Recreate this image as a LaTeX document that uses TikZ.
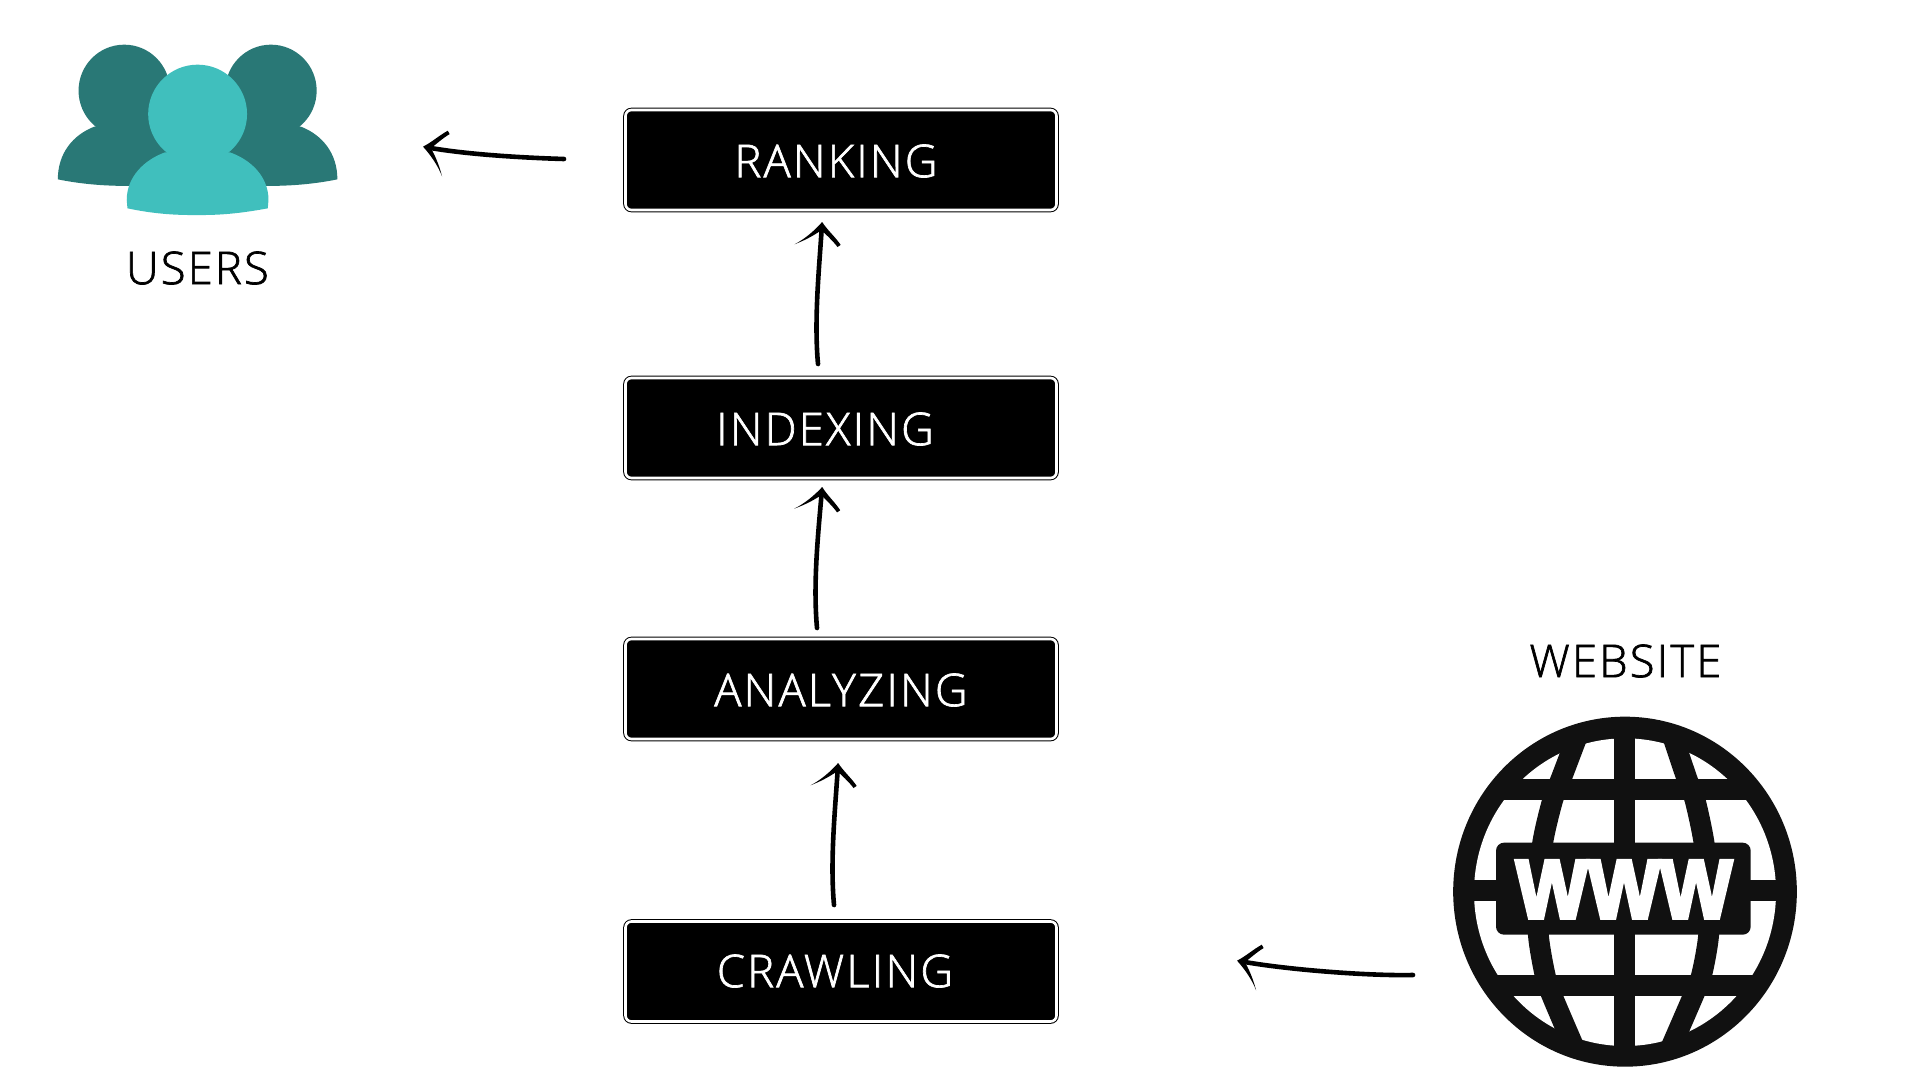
\documentclass[tikz,border=0pt]{standalone}
\usepackage{fontspec}
\usetikzlibrary{arrows.meta,calc}
\setmainfont[FakeBold=1.5,LetterSpace=5]{Open Sans Light}
\newfontfamily\wwwfont[FakeBold=4.5]{Liberation Sans Bold}
\definecolor{tealdark}{HTML}{297876}
\definecolor{teallight}{HTML}{40BFBD}
\definecolor{globeblack}{HTML}{111111}
\pgfdeclarearrow{
  name=HandTip,
  setup code={\pgfarrowssettipend{0pt}\pgfarrowssetlineend{-2pt}\pgfarrowssetvisualbackend{-2pt}},
  drawing code={
    \pgfpathmoveto{\pgfqpoint{1pt}{0pt}}
    \pgfpathcurveto{\pgfqpoint{-3.5pt}{3.5pt}}{\pgfqpoint{-8pt}{8pt}}{\pgfqpoint{-11pt}{13pt}}
    \pgfpathcurveto{\pgfqpoint{-8pt}{6.5pt}}{\pgfqpoint{-5pt}{2.5pt}}{\pgfqpoint{-3pt}{0pt}}
    \pgfpathcurveto{\pgfqpoint{-5pt}{-2pt}}{\pgfqpoint{-8pt}{-6pt}}{\pgfqpoint{-11pt}{-8.5pt}}
    \pgfpathlineto{\pgfqpoint{-9.8pt}{-10pt}}
    \pgfpathcurveto{\pgfqpoint{-6pt}{-7pt}}{\pgfqpoint{-3pt}{-3pt}}{\pgfqpoint{1pt}{0pt}}
    \pgfpathclose
    \pgfusepathqfill
  }
}
\tikzset{
  stagebox/.style={draw=black,line width=.5pt,double=white,double distance=1.3pt,fill=black,
    rounded corners=3pt,minimum width=215.5pt,minimum height=50pt,inner sep=0pt},
  stagetext/.style={text=white,font=\fontsize{22.6}{24}\selectfont,inner sep=0pt},
  captiontext/.style={text=black,font=\fontsize{22.6}{24}\selectfont,inner sep=0pt},
  handline/.style={draw=black,line width=2.3pt,line cap=round,-{HandTip}},
  bar/.style={fill=globeblack,draw=none},
  meridian/.style={draw=globeblack,line width=10.4pt}
}
\begin{document}
\begin{tikzpicture}[x=0.5pt,y=-0.5pt]
\useasboundingbox[fill=white] (0,0) rectangle (1920,1080);
% stages
\node[stagebox] (ranking) at (841,160) {};
\node[stagebox] (indexing) at (841,428) {};
\node[stagebox] (analyzing) at (841,689) {};
\node[stagebox] (crawling) at (841,971.5) {};
\node[stagetext] (rankingtext) at (836,161) {RANKING};
\node[stagetext] (indexingtext) at (825,429) {INDEXING};
\node[stagetext] (analyzingtext) at (841,690) {ANALYZING};
\node[stagetext] (crawlingtext) at (835,971) {CRAWLING};
% users icon
\begin{scope}[shift={(30,20)},x=.1785pt,y=-.16667pt]
  \fill[tealdark] (264,212) ellipse [x radius=128,y radius=138];
  \fill[tealdark] (180,320) .. controls (120,345) and (78,400) .. (78,478) .. controls (140,492) and (220,500) .. (300,497) -- (469,400) -- (300,300) -- cycle;
  \fill[tealdark] (675,212) ellipse [x radius=128,y radius=138];
  \fill[tealdark] (759,320) .. controls (819,345) and (861,400) .. (861,478) .. controls (799,492) and (719,500) .. (639,497) -- (469,400) -- (639,300) -- cycle;
  \fill[teallight] (469.5,282) ellipse [x radius=138.5,y radius=148];
  \fill[teallight] (378,397) .. controls (320,420) and (271,470) .. (271,540) -- (273,565) .. controls (340,580) and (400,586) .. (469.5,585) .. controls (540,586) and (600,578) .. (666,565) -- (668,540) .. controls (668,470) and (620,420) .. (560,397) -- cycle;
  \node[captiontext] (users) at (469,744) {USERS};
\end{scope}
% globe icon
\begin{scope}[shift={(1430,700)},x=.16667pt,y=-.16667pt]
  \fill[globeblack] (585,575) ellipse [x radius=515.5,y radius=525];
  \fill[white] (585,576.5) ellipse [x radius=453,y radius=461.5];
  \begin{scope}
    \clip (585,575) ellipse [x radius=490,y radius=500];
    \fill[bar] (552,60) rectangle (614,1090);
    \fill[bar] (60,237) rectangle (1110,300);
    \fill[bar] (60,824) rectangle (1110,887);
    \fill[bar] (60,541) rectangle (1110,604);
    \draw[meridian] plot[smooth] coordinates {(445,100) (393,237) (368,300) (338,428) (325,570) (325,704) (345,824) (366,887) (440,1060)};
    \draw[meridian] plot[smooth] coordinates {(725,100) (771,237) (795,300) (822,428) (836,570) (836,704) (815,824) (790,887) (715,1060)};
  \end{scope}
  \fill[globeblack,rounded corners=4pt] (198,428) rectangle (962,704);
  \node[text=white,inner sep=0pt,font=\wwwfont\fontsize{41.5}{44}\selectfont] (www) at (582,568) {\scalebox{.92}[1]{WWW}};
  \node[captiontext] (website) at (586,-117) {WEBSITE};
\end{scope}
% connectors
\coordinate (rankout) at (564,159);
\coordinate (usersin) at (425,147);
\coordinate (indexout) at (818,364);
\coordinate (rankin) at (822,224);
\coordinate (analyzeout) at (817,628);
\coordinate (indexin) at (822,489);
\coordinate (crawlout) at (834,905);
\coordinate (analyzein) at (838,765);
\coordinate (siteout) at (1413,975);
\coordinate (crawlin) at (1239,961);
\draw[handline] (rankout) .. controls (530,158) and (470,155) .. (usersin);
\draw[handline] (indexout) .. controls (814,320) and (819,270) .. (rankin);
\draw[handline] (analyzeout) .. controls (813,584) and (818,535) .. (indexin);
\draw[handline] (crawlout) .. controls (830,861) and (835,811) .. (analyzein);
\draw[handline] (siteout) .. controls (1370,976) and (1290,970) .. (crawlin);
\end{tikzpicture}
\end{document}
